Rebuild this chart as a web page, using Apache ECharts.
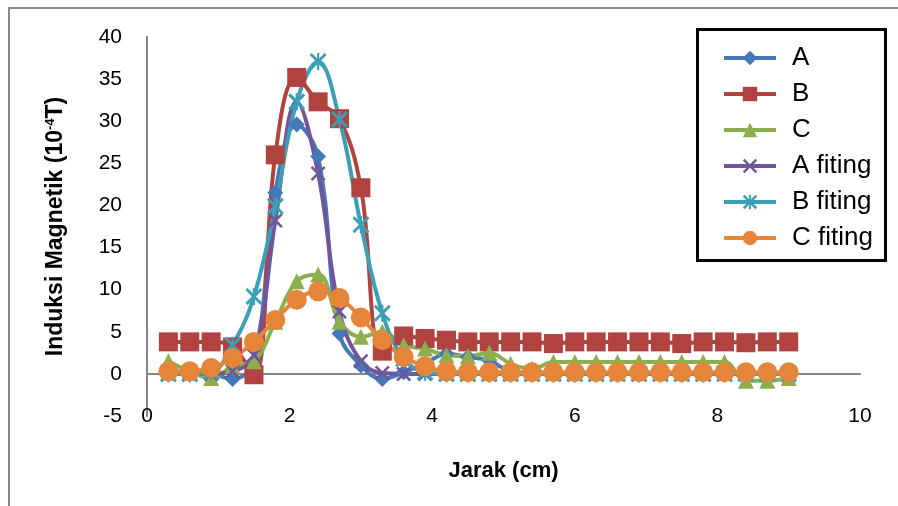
<!DOCTYPE html>
<html>
<head>
<meta charset="utf-8">
<script src="https://cdn.jsdelivr.net/npm/echarts@6/dist/echarts.min.js"></script>
<style>
  html,body{margin:0;padding:0;background:#fff;}
  #chart{width:898px;height:506px;}
</style>
</head>
<body>
<div id="chart"></div>
<script>
// ====== 數據 ======
const jarak = [0.3,0.6,0.9,1.2,1.5,1.8,2.1,2.4,2.7,3.0,3.3,3.6,3.9,4.2,4.5,4.8,5.1,5.4,5.7,6.0,6.3,6.6,6.9,7.2,7.5,7.8,8.1,8.4,8.7,9.0];

const valA = [0.1,0.1,0.0,-0.6,1.5,21.5,29.6,25.8,4.8,1.0,-0.6,0.2,1.2,2.4,2.0,1.6,0.3,0.1,0.1,0.1,0.1,0.1,0.1,0.1,0.1,0.1,0.1,0.1,0.1,0.1];
const valB = [3.8,3.8,3.8,3.2,-0.1,26.0,35.2,32.3,30.3,22.1,2.7,4.5,4.2,4.0,3.8,3.8,3.8,3.8,3.6,3.8,3.8,3.8,3.8,3.8,3.6,3.8,3.8,3.7,3.8,3.8];
const valC = [1.5,0.3,-0.5,0.9,1.5,6.2,11.0,11.8,6.2,4.4,5.0,3.4,3.0,2.2,2.1,2.5,1.2,0.6,1.4,1.4,1.4,1.4,1.4,1.4,1.4,1.4,1.4,-0.8,-0.8,-0.5];
const valAfit = [0.0,0.0,0.0,0.3,2.2,18.2,32.3,23.8,7.4,1.5,0.1,0.0,0.0,0.0,0.0,0.0,0.0,0.0,0.0,0.0,0.0,0.0,0.0,0.0,0.0,0.0,0.0,0.0,0.0,0.0];
const valBfit = [0.0,0.0,0.2,3.4,9.2,19.9,32.3,37.1,30.2,17.7,7.2,1.8,0.2,0.0,0.0,0.0,0.0,0.0,0.0,0.0,0.0,0.0,0.0,0.0,0.0,0.0,0.0,0.0,0.0,0.0];
const valCfit = [0.3,0.3,0.7,1.9,3.8,6.4,8.8,9.8,9.0,6.7,4.0,2.0,0.9,0.3,0.2,0.2,0.2,0.2,0.2,0.2,0.2,0.2,0.2,0.2,0.2,0.2,0.2,0.2,0.2,0.2];

const xTicks = [0,2,4,6,8,10];
const yTicks = [-5,0,5,10,15,20,25,30,35,40];

// ---- 標記形狀 ----
const X_PATH = 'path://M0,1.2L1.2,0L5,3.8L8.8,0L10,1.2L6.2,5L10,8.8L8.8,10L5,6.2L1.2,10L0,8.8L3.8,5Z';
const STAR_PATH = X_PATH + 'M4.35,0L5.65,0L5.65,10L4.35,10Z';

const seriesDefs = [
  { name:'A',        data:valA,    color:'#4677B8', symbol:'diamond',  size:16 },
  { name:'B',        data:valB,    color:'#B0433F', symbol:'rect',     size:19 },
  { name:'C',        data:valC,    color:'#8DAE4E', symbol:'triangle', size:16 },
  { name:'A fiting', data:valAfit, color:'#71559A', symbol:X_PATH,     size:15 },
  { name:'B fiting', data:valBfit, color:'#3C9FB8', symbol:STAR_PATH,  size:17 },
  { name:'C fiting', data:valCfit, color:'#E5853A', symbol:'circle',   size:20 }
];

const FONT = '"Liberation Sans", Arial, sans-serif';

const chart = echarts.init(document.getElementById('chart'));
chart.setOption({
  backgroundColor:'#fff',
  animation:false,
  graphic:[
    { type:'rect', shape:{ x:9, y:8, width:900, height:510 },
      style:{ fill:'none', stroke:'#898989', lineWidth:2 }, z:-10 },
    { type:'rect', shape:{ x:697.5, y:29.5, width:188, height:231 },
      style:{ fill:'#fff', stroke:'#000', lineWidth:3 }, z:0 }
  ],
  legend:{
    orient:'vertical',
    left:722, top:44, padding:0,
    itemWidth:52, itemHeight:18, itemGap:8,
    lineStyle:{ width:4 },
    textStyle:{ fontFamily:FONT, fontSize:26, color:'#000', lineHeight:28, padding:[0,0,0,11] },
    data: seriesDefs.map(s => s.name),
    z:10
  },
  grid:{ left:147, right:38, top:37, bottom:90 },
  xAxis:[{
    type:'value', min:0, max:10, interval:2,
    name:'Jarak (cm)', nameLocation:'middle', nameGap:44,
    nameTextStyle:{ fontFamily:FONT, fontSize:22, fontWeight:'bold', color:'#000' },
    axisLine:{ show:false, onZero:false },
    axisTick:{ show:false },
    splitLine:{ show:false },
    axisLabel:{ fontFamily:FONT, fontSize:21, color:'#000', margin:0, verticalAlign:'middle',
      customValues: xTicks }
  },{
    type:'value', min:0, max:10, position:'bottom',
    axisLine:{ show:true, onZero:true, lineStyle:{ color:'#868686', width:2 } },
    axisTick:{ show:false }, axisLabel:{ show:false }, splitLine:{ show:false }
  }],
  yAxis:{
    type:'value', min:-5, max:40, interval:5,
    name:'Induksi Magnetik (10{sup|-4}T)', nameLocation:'middle', nameGap:80,
    nameTextStyle:{ fontFamily:FONT, fontSize:23, fontWeight:'bold', color:'#000',
      rich:{ sup:{ fontFamily:FONT, fontSize:13, fontWeight:'bold', color:'#000', verticalAlign:'top', padding:[0,0,10,0] } } },
    axisLine:{ show:true, lineStyle:{ color:'#868686', width:2 } },
    axisTick:{ show:false },
    splitLine:{ show:false },
    axisLabel:{ fontFamily:FONT, fontSize:21, color:'#000', margin:25, customValues: yTicks }
  },
  series: seriesDefs.map(s => ({
    name:s.name, type:'line', xAxisIndex:0,
    data: jarak.map((x,i) => [x, s.data[i]]),
    smooth:0.4,
    symbol:s.symbol, symbolSize:s.size, showAllSymbol:true,
    itemStyle:{ color:s.color },
    lineStyle:{ color:s.color, width:4 },
    emphasis:{ disabled:true }
  }))
});
</script>
</body>
</html>
